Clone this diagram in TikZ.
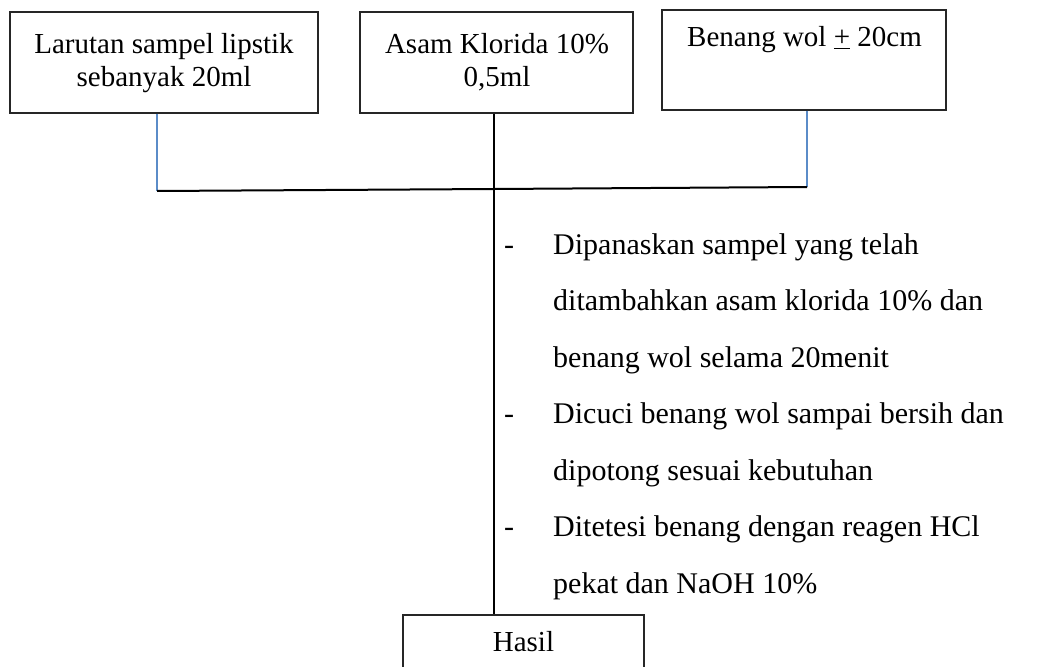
\documentclass[tikz,border=0pt]{standalone}
\usepackage{fontspec}
\setmainfont{Liberation Serif}
\definecolor{lineblue}{RGB}{91,140,200}
\begin{document}
\begin{tikzpicture}[x=1pt,y=-1pt,
  box/.style={draw=black!85, line width=1.3pt, inner sep=0pt},
  boxtext/.style={font=\fontsize{29}{33}\selectfont, align=center, inner sep=0pt},
  conn/.style={line width=2pt},
  feed/.style={draw=lineblue, line width=1.5pt}]
\clip (0,0) rectangle (1043,666);
% boxes
\node[box, minimum width=308pt, minimum height=101pt] (b1) at (164,62.5) {};
\node[box, minimum width=273pt, minimum height=101pt] (b2) at (496.5,62.5) {};
\node[box, minimum width=284pt, minimum height=100pt] (b3) at (804,60) {};
\node[box, minimum width=241pt, minimum height=80pt] (hasil) at (523.5,655) {};
% box texts
\node[boxtext, anchor=base] (t1) at (164,87) {Larutan sampel lipstik\\sebanyak 20ml};
\node[boxtext, anchor=base] (t2) at (497,87) {Asam Klorida 10\%\\0,5ml};
\node[boxtext, anchor=base] (t3) at (804.5,47) {Benang wol \underline{+} 20cm};
\node[boxtext, anchor=base] (t4) at (523.5,651) {Hasil};
% connectors
\coordinate (jl) at (157,191);
\coordinate (jr) at (807,187);
\coordinate (jm) at (494,189);
\draw[feed] (b1.south -| jl) -- (jl);
\draw[feed] (b3.south -| jr) -- (jr);
\draw[conn] (jl) -- (jm) -- (jr);
\draw[conn] (b2.south -| jm) -- (jm) -- (hasil.north -| jm);
% steps
\node[anchor=base west, inner sep=0pt, font=\fontsize{30}{56.5}\selectfont] (steps) at (504,254)
{\begin{tabular}[t]{@{}p{49pt}@{}l@{}}
- & Dipanaskan sampel yang telah\\
  & ditambahkan asam klorida 10\% dan\\
  & benang wol selama 20menit\\
- & Dicuci benang wol sampai bersih dan\\
  & dipotong sesuai kebutuhan\\
- & Ditetesi benang dengan reagen HCl\\
  & pekat dan NaOH 10\%
\end{tabular}};
\end{tikzpicture}
\end{document}
